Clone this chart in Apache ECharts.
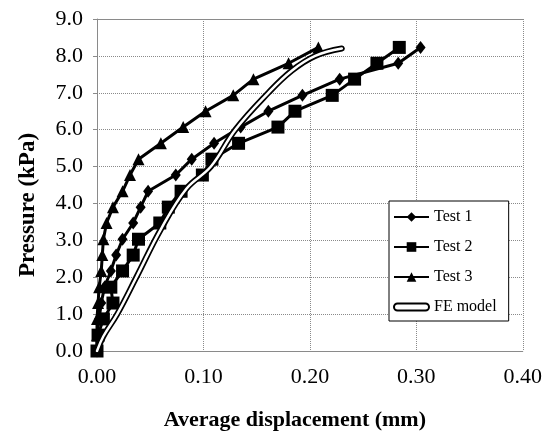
<!DOCTYPE html>
<html>
<head>
    <meta charset="utf-8">
    <title>Pressure vs displacement</title>
    <script src="https://cdn.jsdelivr.net/npm/echarts@6/dist/echarts.min.js"></script>
</head>
<body style="margin:0">
    <div id="main" style="width: 545px;height:436px;"></div>
    <script type="text/javascript">
        // pressure steps (kPa), shared by the three tests
        var pressure = [0, 0.43, 0.87, 1.30, 1.73, 2.17, 2.60, 3.03, 3.47, 3.90,
                        4.33, 4.77, 5.20, 5.63, 6.07, 6.50, 6.93, 7.37, 7.80, 8.23];
        // average displacement (mm) for each test
        var test1 = [0, 0.000, 0.002, 0.004, 0.007, 0.013, 0.018, 0.024, 0.034, 0.041,
                     0.048, 0.074, 0.089, 0.110, 0.135, 0.161, 0.193, 0.228, 0.283, 0.304];
        var test2 = [0, 0.001, 0.006, 0.015, 0.013, 0.024, 0.034, 0.039, 0.059, 0.067,
                     0.079, 0.099, 0.108, 0.133, 0.170, 0.186, 0.221, 0.242, 0.263, 0.284];
        var test3 = [0, 0.000, 0.000, 0.001, 0.002, 0.004, 0.005, 0.006, 0.009, 0.015,
                     0.024, 0.031, 0.039, 0.060, 0.081, 0.102, 0.128, 0.147, 0.180, 0.208];
        // FE model curve
        var feDisp = [0, 0.006, 0.019, 0.037, 0.060, 0.084, 0.107, 0.130, 0.161, 0.183, 0.205, 0.230];
        var fePress = [0, 0.40, 1.00, 2.00, 3.30, 4.40, 5.00, 6.00, 7.00, 7.60, 8.00, 8.20];

        var xTicks = ['0.00', '0.10', '0.20', '0.30', '0.40'];
        var yTicks = ['0.0', '1.0', '2.0', '3.0', '4.0', '5.0', '6.0', '7.0', '8.0', '9.0'];

        function pairs(xs, ys) {
            return xs.map(function (x, i) { return [x, ys[i]]; });
        }

        var serif = 'Liberation Serif';
        var gray = '#8a8a8a';

        function testSeries(name, xs, symbol, size) {
            return {
                name: name,
                type: 'line',
                data: pairs(xs, pressure),
                symbol: symbol,
                symbolSize: size,
                lineStyle: { color: '#000', width: 3 },
                itemStyle: { color: '#000' }
            };
        }

        var myChart = echarts.init(document.getElementById('main'));

        var option = {
            animation: false,
            backgroundColor: '#fff',
            grid: { left: 97, right: 19, top: 19, bottom: 68 },
            legend: {
                orient: 'vertical',
                left: 389,
                top: 201,
                backgroundColor: '#fff',
                borderColor: '#000',
                borderWidth: 1,
                borderRadius: 0,
                padding: [8, 12, 6, 4],
                itemWidth: 35,
                itemHeight: 12,
                itemGap: 14,
                textStyle: { fontFamily: serif, fontSize: 16, color: '#000' },
                data: [
                    'Test 1', 'Test 2', 'Test 3',
                    {
                        name: 'FE model',
                        icon: 'path://M3.5,0H31.5A3.5,3.5,0,0,1,31.5,7H3.5A3.5,3.5,0,0,1,3.5,0Z',
                        itemStyle: { color: '#fff', borderColor: '#000', borderWidth: 2 }
                    }
                ]
            },
            xAxis: [{
                type: 'value',
                min: 0, max: 0.4, interval: 0.1,
                name: 'Average displacement (mm)',
                nameLocation: 'middle',
                nameGap: 58,
                nameTextStyle: { fontFamily: serif, fontSize: 22, fontWeight: 'bold', color: '#000', padding: [0, 30, 0, 0] },
                axisLine: { lineStyle: { color: gray, width: 1 } },
                axisTick: { show: false },
                axisLabel: {
                    fontFamily: serif, fontSize: 22, color: '#000', margin: 15,
                    formatter: function (v) { return xTicks[Math.round(v * 10)]; }
                },
                splitLine: { lineStyle: { color: gray, type: 'dotted', width: 1 } }
            }, {
                // top border of the plot
                type: 'value', position: 'top',
                min: 0, max: 0.4,
                axisLine: { show: true, lineStyle: { color: gray, width: 1 } },
                axisTick: { show: false }, axisLabel: { show: false }, splitLine: { show: false }
            }],
            yAxis: {
                type: 'value',
                min: 0, max: 9, interval: 1,
                name: 'Pressure (kPa)',
                nameLocation: 'middle',
                nameGap: 57,
                nameTextStyle: { fontFamily: serif, fontSize: 23, fontWeight: 'bold', color: '#000', padding: [0, 40, 0, 0] },
                axisLine: { show: true, lineStyle: { color: gray, width: 1 } },
                axisTick: { show: true, length: 4, lineStyle: { color: gray } },
                axisLabel: {
                    fontFamily: serif, fontSize: 22, color: '#000', margin: 14,
                    formatter: function (v) { return yTicks[Math.round(v)]; }
                },
                splitLine: { lineStyle: { color: gray, type: 'dotted', width: 1 } }
            },
            series: [
                testSeries('Test 1', test1, 'diamond', [10, 13]),
                testSeries('Test 2', test2, 'rect', 13),
                testSeries('Test 3', test3, 'triangle', 12),
                {
                    name: 'FE model',
                    type: 'line',
                    data: pairs(feDisp, fePress),
                    smooth: 0.4,
                    showSymbol: false,
                    symbol: 'none',
                    lineStyle: { color: '#000', width: 6, cap: 'round' },
                    itemStyle: { color: '#fff', borderColor: '#000', borderWidth: 2 },
                    z: 3
                },
                {
                    name: 'FE inner',
                    type: 'line',
                    data: pairs(feDisp, fePress),
                    smooth: 0.4,
                    showSymbol: false,
                    symbol: 'none',
                    silent: true,
                    lineStyle: { color: '#fff', width: 2.5, cap: 'round' },
                    z: 4
                }
            ]
        };

        myChart.setOption(option);
    </script>
</body>
</html>
